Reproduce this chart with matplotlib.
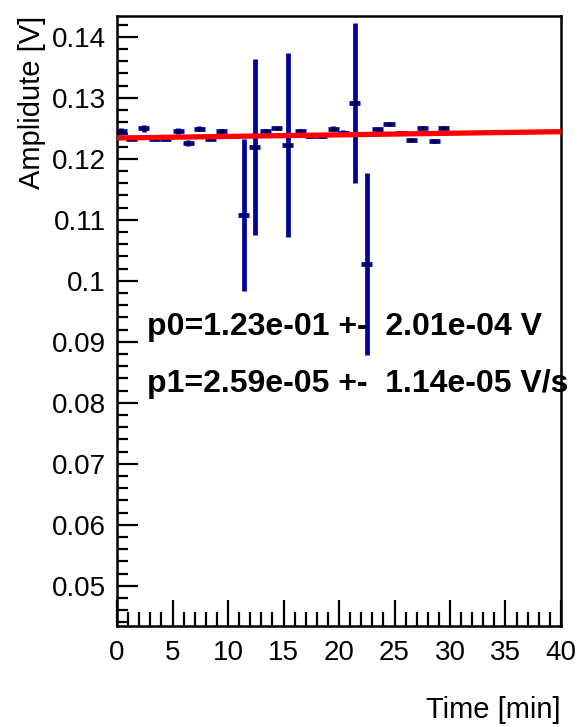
import matplotlib
matplotlib.use("Agg")
import matplotlib.pyplot as plt
from matplotlib.ticker import MultipleLocator
import numpy as np

# amplitude measurements vs. time
time_min = [0.4, 1.3, 2.4, 3.4, 4.4, 5.5, 6.4, 7.4, 8.4, 9.4,
            10.4, 11.4, 12.4, 13.4, 14.4, 15.4, 16.5, 17.4, 18.4, 19.5,
            20.4, 21.4, 22.5, 23.5, 24.5, 25.6, 26.5, 27.5, 28.6, 29.4]
amplitude = [0.1245, 0.1233, 0.1250, 0.1233, 0.1233, 0.1245, 0.1226, 0.1249, 0.1233, 0.1245,
             0.1237, 0.1108, 0.1219, 0.1246, 0.1250, 0.1223, 0.1246, 0.1238, 0.1237, 0.1249,
             0.1243, 0.1292, 0.1028, 0.1248, 0.1257, 0.1242, 0.1230, 0.1251, 0.1229, 0.1251]
amp_err = [0.0006, 0.0002, 0.0006, 0.0002, 0.0002, 0.0005, 0.0005, 0.0004, 0.0003, 0.0003,
           0.0003, 0.0124, 0.0144, 0.0002, 0.0003, 0.0151, 0.0002, 0.0004, 0.0003, 0.0004,
           0.0004, 0.0131, 0.0149, 0.0003, 0.0004, 0.0003, 0.0003, 0.0002, 0.0003, 0.0002]
time_err = [0.5] * len(time_min)

# linear fit parameters
P0, P0_ERR = 0.1234, 2.01e-04
P1, P1_ERR = 2.59e-05, 1.14e-05

plt.rcParams["font.family"] = ["Liberation Sans", "DejaVu Sans"]

fig = plt.figure(figsize=(5.79, 7.27), dpi=100)
ax = fig.add_axes([0.2021, 0.1389, 0.7668, 0.8391])

ax.errorbar(time_min, amplitude, xerr=time_err, yerr=amp_err, fmt="o",
            color="#000099", ecolor="#000099", elinewidth=3.4, capsize=0,
            markersize=1.6, markerfacecolor="black", markeredgecolor="black",
            zorder=2)

t_fit = np.linspace(0, 40, 200)
ax.plot(t_fit, P0 + P1 * t_fit, color="#ff0000", linewidth=3.8, zorder=3)

ax.set_xlim(0, 40)
ax.set_ylim(0.0434, 0.1434)

ax.xaxis.set_major_locator(MultipleLocator(5))
ax.xaxis.set_minor_locator(MultipleLocator(1))
ax.yaxis.set_major_locator(MultipleLocator(0.01))
ax.yaxis.set_minor_locator(MultipleLocator(0.002))
ax.yaxis.set_major_formatter(plt.FuncFormatter(lambda v, p: f"{v:g}"))

ax.tick_params(which="both", direction="in", top=False, right=False,
               width=1.6, labelsize=20, colors="black")
ax.tick_params(axis="x", which="major", length=19, pad=10)
ax.tick_params(axis="x", which="minor", length=10)
ax.tick_params(axis="y", which="major", length=15, pad=8)
ax.tick_params(axis="y", which="minor", length=8)
for spine in ax.spines.values():
    spine.set_linewidth(1.8)

ax.set_xlabel("Time [min]", fontsize=21, loc="right", labelpad=22)
ax.set_ylabel("Amplidute [V]", fontsize=21, loc="top", labelpad=4)

ax.text(0.068, 0.49, f"p0={P0:.2e} +-  {P0_ERR:.2e} V", transform=ax.transAxes,
        fontsize=23, fontweight="bold", va="center", ha="left")
ax.text(0.068, 0.397, f"p1={P1:.2e} +-  {P1_ERR:.2e} V/s", transform=ax.transAxes,
        fontsize=23, fontweight="bold", va="center", ha="left", clip_on=False)

fig.savefig("out.png", dpi=100, facecolor="white")
